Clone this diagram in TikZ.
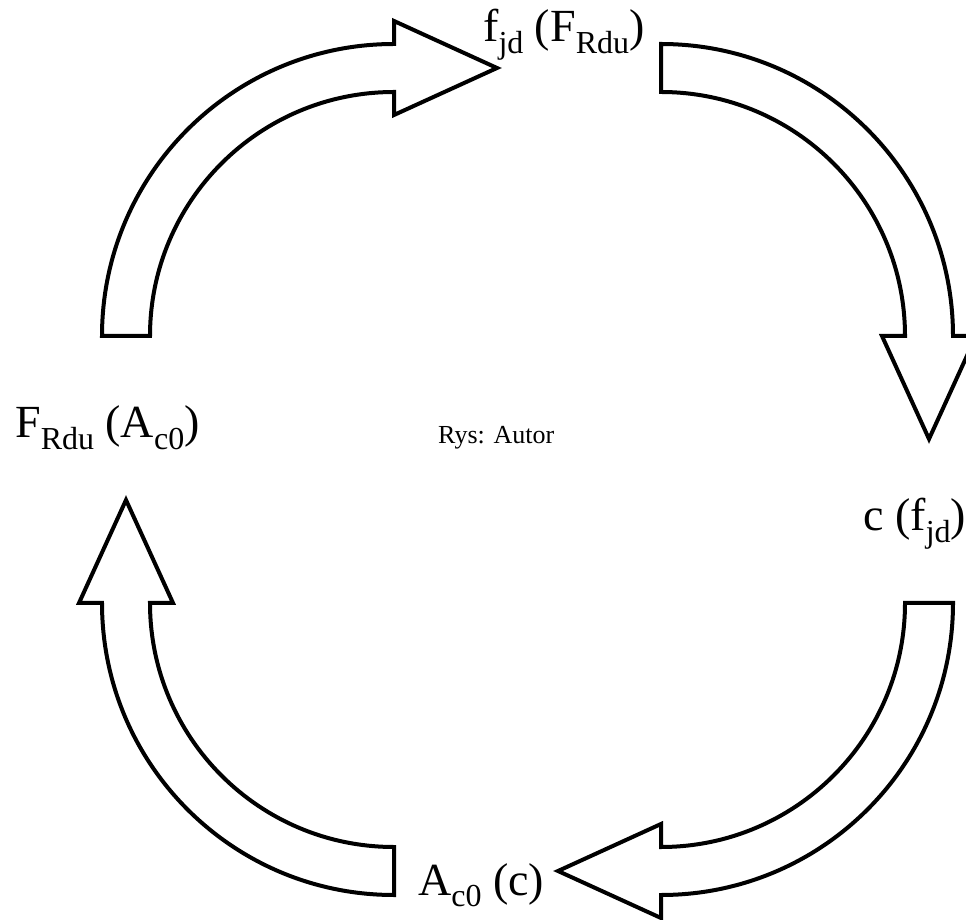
\documentclass[tikz,border=0pt]{standalone}
\usepackage{fontspec}
\setmainfont{Liberation Serif}
\newcommand\lowsub[1]{\raisebox{-0.24em}{\fontsize{32}{34}\selectfont #1}}
\tikzset{
  x=1pt, y=1pt,
  arrowline/.style={draw=black, fill=white, line width=4pt, line join=miter},
  biglabel/.style={inner sep=0pt, anchor=base west, font=\fontsize{46}{50}\selectfont},
  smalllabel/.style={inner sep=0pt, anchor=base west, font=\fontsize{26}{30}\selectfont},
  % hollow quarter-circle block arrow: tail on the left, head at the top pointing right
  bend arrow/.pic={
    \path[arrowline] (180:292) arc[start angle=180, end angle=90, radius=292]
      -- (0,315) -- (103,268) -- (0,221) -- (0,244)
      arc[start angle=90, end angle=180, radius=244] -- cycle;
  }
}
\begin{document}
\begin{tikzpicture}
\useasboundingbox (0,0) rectangle (966,919);
\clip (0,0) rectangle (966,919);
\fill[white] (0,0) rectangle (966,919);

% arrow centres
\coordinate (c1) at (394,583);
\coordinate (c2) at (661,583);
\coordinate (c3) at (661,316);
\coordinate (c4) at (394,316);

\pic at (c1) {bend arrow};
\pic[rotate=-90] at (c2) {bend arrow};
\pic[rotate=-180] at (c3) {bend arrow};
\pic[rotate=90] at (c4) {bend arrow};

% labels
\node[biglabel] (fjd) at (483,877) {f\lowsub{jd} (F\lowsub{Rdu})};
\node[biglabel] (cf) at (863,388) {c (f\lowsub{jd})};
\node[biglabel] (ac) at (418,24) {A\lowsub{c0} (c)};
\node[biglabel] (fr) at (15,481) {F\lowsub{Rdu} (A\lowsub{c0})};
\node[smalllabel] (rys) at (438,475) {Rys: Autor};
\end{tikzpicture}
\end{document}
